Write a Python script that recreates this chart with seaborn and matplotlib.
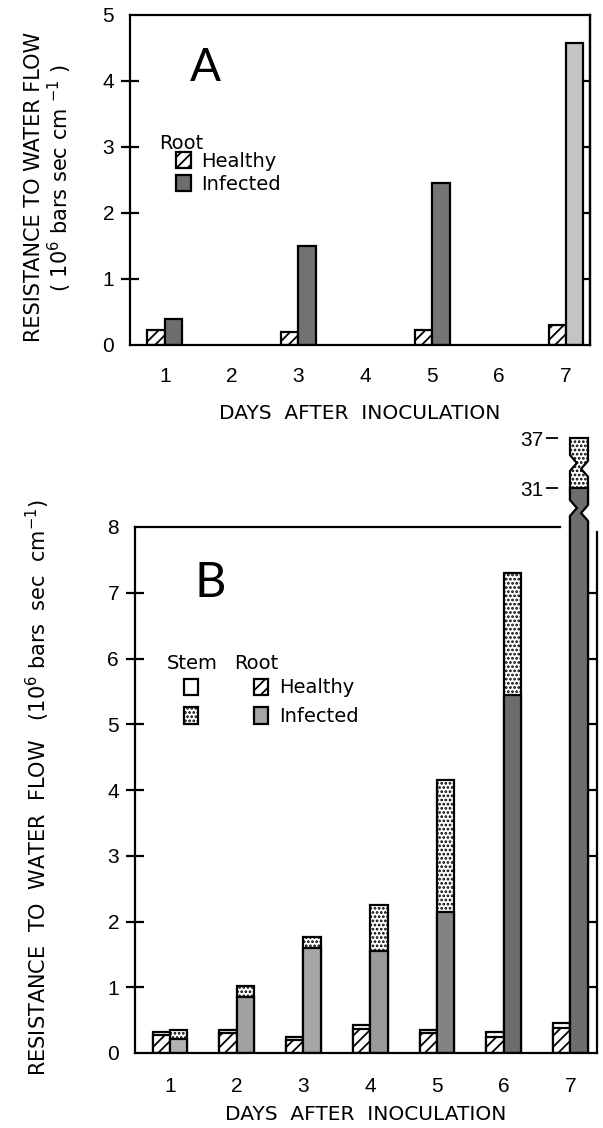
"""
root / stem resistance to water flow after inoculation, panels A and B
"""
import matplotlib as mpl
mpl.use('Agg')
import matplotlib.pyplot as plt
from matplotlib.patches import Patch
import seaborn as sns
import pandas as pd
import numpy as np

sns.set_style('ticks')
plt.rcParams['font.family'] = ['Liberation Sans', 'DejaVu Sans']
plt.rcParams['hatch.linewidth'] = 1.3
plt.rcParams['axes.linewidth'] = 1.6
plt.rcParams['text.color'] = 'black'
plt.rcParams['axes.labelcolor'] = 'black'
plt.rcParams['xtick.color'] = 'black'
plt.rcParams['ytick.color'] = 'black'
plt.rcParams['axes.edgecolor'] = 'black'

#%% data
days = [1, 2, 3, 4, 5, 6, 7]
day_labels = ['1', '2', '3', '4', '5', '6', '7']

# panel A: root only, measured on odd days
days_a = [1, 3, 5, 7]
healthy_a = [0.22, 0.20, 0.22, 0.30]
infected_a = [0.40, 1.50, 2.45, 4.58]

# panel B: root part and root + stem total
healthy_root_b = [0.27, 0.30, 0.20, 0.37, 0.30, 0.25, 0.38]
healthy_total_b = [0.32, 0.35, 0.25, 0.42, 0.35, 0.32, 0.46]
infected_root_b = [0.22, 0.85, 1.60, 1.55, 2.15, 5.45, 31.0]
infected_total_b = [0.35, 1.02, 1.76, 2.25, 4.15, 7.30, 37.0]

yticks_a = [0, 1, 2, 3, 4, 5]
yticks_b = [0, 1, 2, 3, 4, 5, 6, 7, 8]
yticks_break = [31, 37]

# greys of the infected bars
shade_a = ['#6e6e6e', '#727272', '#757575', '#c4c4c4']
shade_b = ['#b3b3b3', '#a2a2a2', '#a5a5a5', '#9a9a9a', '#838383', '#6c6c6c', '#6e6e6e']

lab_font = ['DejaVu Sans']
big_font = ['Lato', 'DejaVu Sans']
LW = 1.6
DOTS = '....'

df_a = pd.DataFrame({'day': days_a * 2,
                     'root': ['Healthy'] * 4 + ['Infected'] * 4,
                     'value': healthy_a + infected_a})
df_tot = pd.DataFrame({'day': days * 2,
                       'root': ['Healthy'] * 7 + ['Infected'] * 7,
                       'value': healthy_total_b + infected_total_b})
df_root = pd.DataFrame({'day': days * 2,
                        'root': ['Healthy'] * 7 + ['Infected'] * 7,
                        'value': healthy_root_b + infected_root_b})


def bars(ax, df, hatches, colors):
    n0 = len(ax.patches)
    sns.barplot(data=df, x='day', y='value', hue='root', order=days,
                hue_order=['Healthy', 'Infected'], dodge=True, width=0.52,
                palette=['white', 'grey'], edgecolor='black', linewidth=LW,
                errorbar=None, legend=False, ax=ax)
    new = ax.patches[n0:]
    for p, h, c in zip(new, hatches, colors):
        p.set_hatch(h)
        p.set_facecolor(c)
        p.set_edgecolor('black')
    return new


def notch(ax, p, y, h, side):
    # jagged break drawn into the edge of a bar
    x0, w = p.get_x(), p.get_width()
    if side == 'left':
        edge, tip, out = x0, x0 + 0.38 * w, x0 - 0.04
    else:
        edge, tip, out = x0 + w, x0 + w - 0.38 * w, x0 + w + 0.04
    ax.fill([out, edge, tip, edge, out], [y - h, y - h, y, y + h, y + h],
            color='white', zorder=5, clip_on=False, lw=0)
    ax.plot([edge, tip, edge], [y - h, y, y + h], color='black', lw=LW,
            zorder=6, clip_on=False, solid_joinstyle='miter')


fig = plt.figure(figsize=(6.03, 11.28), dpi=100)
W, H = 603., 1128.

#%% ================= panel A ================= #
axA = fig.add_axes([130 / W, 1 - 345 / H, 460 / W, 330 / H])
bars(axA, df_a, ['///'] * 4 + [''] * 4, ['white'] * 4 + shade_a)
axA.set(xlim=(-0.52, 6.36), ylim=(0, 5), xlabel='', ylabel='')
axA.set_yticks(yticks_a)
axA.set_xticks(range(7), day_labels)
axA.tick_params(axis='y', direction='inout', length=13, width=LW, labelsize=15, pad=5)
axA.tick_params(axis='x', length=0, labelsize=15, pad=16)
for t in [axA.yaxis.get_major_ticks()[0], axA.yaxis.get_major_ticks()[-1]]:
    t.tick1line.set_visible(False)
secA = axA.secondary_yaxis('right')
secA.set_yticks([1, 2, 3, 4])
secA.tick_params(direction='in', length=8, width=LW, labelright=False)
secA.spines['right'].set_linewidth(LW)
axA.set_xlabel('DAYS  AFTER  INOCULATION', fontsize=14.5, family=lab_font, labelpad=13)
axA.text(0.163, 0.84, 'A', transform=axA.transAxes, fontsize=33, family=big_font,
         ha='center', va='center')

axA.text(0.063, 0.612, 'Root', transform=axA.transAxes, fontsize=14, family=lab_font,
         ha='left', va='center')
hA = [Patch(facecolor='white', edgecolor='black', hatch='///', lw=LW),
      Patch(facecolor=shade_a[0], edgecolor='black', lw=LW)]
legA = axA.legend(hA, ['Healthy', 'Infected'], loc='upper left',
                  bbox_to_anchor=(0.1, 0.585), frameon=False, borderpad=0,
                  borderaxespad=0, handlelength=0.75, handleheight=0.9,
                  handletextpad=0.55, labelspacing=0.2,
                  prop={'family': lab_font, 'size': 14})

fig.text(34 / W, 1 - 187 / H, 'RESISTANCE TO WATER FLOW', rotation=90, fontsize=15,
         family=lab_font, ha='center', va='center')
fig.text(60 / W, 1 - 178 / H, r'( 10$^6$ bars sec cm $^{-1}$ )', rotation=90, fontsize=15,
         family=lab_font, ha='center', va='center')

#%% ================= panel B ================= #
axB = fig.add_axes([135 / W, 1 - 1053 / H, 462 / W, 526 / H])
tot = bars(axB, df_tot, [''] * 7 + [DOTS] * 7, ['white'] * 14)
root = bars(axB, df_root, ['///'] * 7 + [''] * 7, ['white'] * 7 + shade_b)
axB.set(xlim=(-0.525, 6.40), ylim=(0, 8), xlabel='', ylabel='')
axB.set_yticks(yticks_b)
axB.set_xticks(range(7), day_labels)
axB.tick_params(axis='y', direction='inout', length=13, width=LW, labelsize=15, pad=5)
axB.tick_params(axis='x', length=0, labelsize=15, pad=17)
for t in [axB.yaxis.get_major_ticks()[0], axB.yaxis.get_major_ticks()[-1]]:
    t.tick1line.set_visible(False)
axB.spines['top'].set_bounds(-0.525, 5.85)
axB.spines['right'].set_visible(False)
secB = axB.secondary_yaxis('right')
secB.set_yticks([1, 2, 3, 4, 5, 6, 7])
secB.tick_params(direction='in', length=8, width=LW, labelright=False)
secB.spines['right'].set_linewidth(LW)
secB.spines['right'].set_bounds(0, 7.92)
axB.set_xlabel('DAYS  AFTER  INOCULATION', fontsize=14.5, family=lab_font, labelpad=7)
axB.text(0.162, 0.894, 'B', transform=axB.transAxes, fontsize=35, family=big_font,
         ha='center', va='center')

axB.text(0.068, 0.741, 'Stem', transform=axB.transAxes, fontsize=14, family=lab_font,
         ha='left', va='center')
axB.text(0.214, 0.741, 'Root', transform=axB.transAxes, fontsize=14, family=lab_font,
         ha='left', va='center')
hB = [Patch(facecolor='white', edgecolor='black', lw=LW),
      Patch(facecolor='white', edgecolor='black', hatch=DOTS, lw=LW),
      Patch(facecolor='white', edgecolor='black', hatch='///', lw=LW),
      Patch(facecolor=shade_b[2], edgecolor='black', lw=LW)]
legB = axB.legend(hB, ['', '', 'Healthy', 'Infected'], ncol=2, loc='upper left',
                  bbox_to_anchor=(0.105, 0.712), frameon=False, borderpad=0,
                  borderaxespad=0, handlelength=0.75, handleheight=0.9,
                  handletextpad=0.55, labelspacing=0.5, columnspacing=2.3,
                  prop={'family': lab_font, 'size': 14})

fig.text(38 / W, 1 - 788 / H,
         r'RESISTANCE  TO  WATER  FLOW   (10$^6$ bars  sec  cm$^{-1}$)',
         rotation=90, fontsize=15, family=lab_font, ha='center', va='center')

# top of the day-7 bar above the break
axT = fig.add_axes([135 / W, 1 - 527 / H, 462 / W, 95 / H])
axT.patch.set_visible(False)
tot_t = bars(axT, df_tot, [''] * 7 + [DOTS] * 7, ['white'] * 14)
root_t = bars(axT, df_root, ['///'] * 7 + [''] * 7, ['white'] * 7 + shade_b)
axT.set(xlim=(-0.525, 6.40), ylim=(26.32, 37.72), xlabel='', ylabel='')
for s in ['top', 'right', 'bottom', 'left']:
    axT.spines[s].set_visible(False)
axT.spines['left'].set_position(('data', 5.82))
axT.set_xticks([])
axT.set_yticks(yticks_break)
axT.tick_params(axis='y', direction='out', length=9, width=1.3, labelsize=15, pad=2)
# breaks in the tall bar
notch(axT, root_t[-1], 28.6, 0.9, 'left')
notch(axT, root_t[-1], 28.0, 0.9, 'right')
notch(axT, tot_t[-1], 34.0, 0.9, 'left')
notch(axT, tot_t[-1], 33.3, 0.9, 'right')

fig.savefig('out.png', dpi=100, facecolor='white')
